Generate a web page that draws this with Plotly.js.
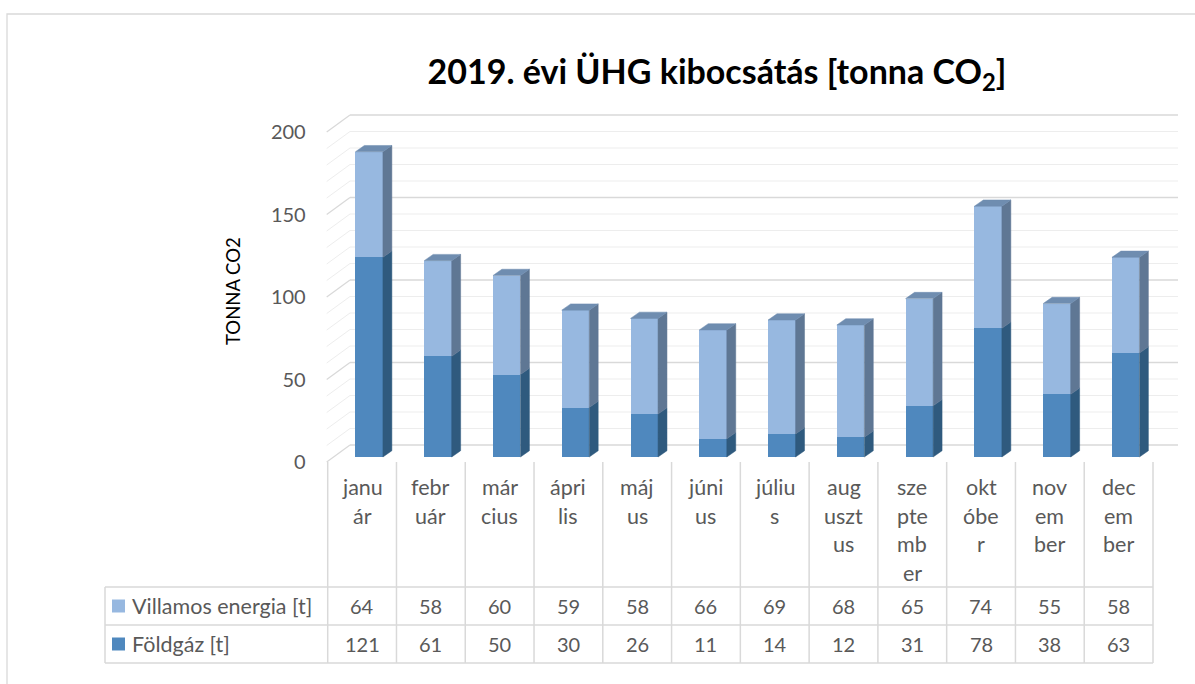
<!DOCTYPE html>
<html><head><meta charset="utf-8">
<script src="https://cdn.plot.ly/plotly-3.0.1.min.js"></script>
<style>html,body{margin:0;padding:0;background:#fff}</style>
</head><body><div id="chart" style="width:1195px;height:684px"></div>
<script>
// ---- data ----
const months = ['január','február','március','április','május','június','július','augusztus','szeptember','október','november','december'];
const monthLabelLines = [['janu','ár'],['febr','uár'],['már','cius'],['ápri','lis'],['máj','us'],['júni','us'],['júliu','s'],['aug','uszt','us'],['sze','pte','mb','er'],['okt','óbe','r'],['nov','em','ber'],['dec','em','ber']];
const villamos = [64,58,60,59,58,66,69,68,65,74,55,58];
const foldgaz = [121,61,50,30,26,11,14,12,31,78,38,63];
const seriesNames = ['Villamos energia [t]','Földgáz [t]'];
const yTicks = [0,50,100,150,200];
const titleText = '<b>2019. évi ÜHG kibocsátás [tonna CO<sub>2</sub>]</b>';
const yTitleText = 'TONNA CO2';

// ---- geometry / style ----
const W = 1195, H = 684;
const fx = px => px / W, fy = py => 1 - py / H;
const COL0 = 327.7, COL1 = 1153, NCOL = months.length, COLW = (COL1 - COL0) / NCOL;
const PX_PER = 1.65, Y0PX = 457, DOM_BOT = 475, DOM_TOP = 108;
const yRange = [(Y0PX - DOM_BOT) / PX_PER, (Y0PX - DOM_TOP) / PX_PER];
const FRONT_SHIFT = 5 / PX_PER, BACK_SHIFT = 12 / PX_PER;
const BAR_W = 0.40, BAR_OFF = -0.097, DX = 0.13, DY = 3.8;
const FONT = 'Lato, "Open Sans", sans-serif';
const TXT = '#595959';
const cVF = '#97B8E0', cGF = '#4F88BE', cVS = '#5F7794', cGS = '#2F5A7E', cTop = '#6F8DB0';
const GRID_MAJ = '#D9D9D9', GRID_MIN = '#EDEDED';
const TXT_SIZE = 21.5, NUM_SIZE = 20;

const xs = months.map((_, i) => i);
const totals = xs.map(i => foldgaz[i] + villamos[i]);

function sidePoly(lo, hi) {
  const X = [], Y = [];
  xs.forEach(i => {
    const xr = i + BAR_OFF + BAR_W;
    X.push(xr, xr + DX, xr + DX, xr, xr, null);
    Y.push(lo[i], lo[i] + DY, hi[i] + DY, hi[i], lo[i], null);
  });
  return {X, Y};
}
const zeros = xs.map(() => 0);
const gSide = sidePoly(zeros, foldgaz);
const vSide = sidePoly(foldgaz, totals);
const topX = [], topY = [];
xs.forEach(i => {
  const xl = i + BAR_OFF, xr = xl + BAR_W, T = totals[i];
  topX.push(xl, xl + DX, xr + DX, xr, xl, null);
  topY.push(T, T + DY, T + DY, T, T, null);
});

const faceTrace = (X, Y, c) => ({type:'scatter', mode:'lines', x:X, y:Y, fill:'toself', fillcolor:c,
  line:{color:c, width:0.5}, hoverinfo:'skip', showlegend:false, xaxis:'x', yaxis:'y'});

const traces = [
  {type:'bar', name:seriesNames[1], x:xs, y:foldgaz, width:BAR_W, offset:BAR_OFF, marker:{color:cGF, line:{width:0}}, showlegend:false, hoverinfo:'skip'},
  {type:'bar', name:seriesNames[0], x:xs, y:villamos, width:BAR_W, offset:BAR_OFF, marker:{color:cVF, line:{width:0}}, showlegend:false, hoverinfo:'skip'},
  faceTrace(gSide.X, gSide.Y, cGS),
  faceTrace(vSide.X, vSide.Y, cVS),
  faceTrace(topX, topY, cTop),
  {type:'scatter', mode:'markers', x:[null], y:[null], xaxis:'x', yaxis:'y2', showlegend:false, hoverinfo:'skip'}
];

// ---- shapes ----
const shapes = [];
// outer chart border
shapes.push({type:'rect', xref:'paper', yref:'paper', x0:fx(7), y0:-0.05, x1:1.05, y1:fy(14), line:{color:GRID_MAJ, width:1.3}, layer:'below'});
// gridlines (side wall diagonal + back wall)
for (let v = 0; v <= 200; v += 10) {
  const major = v % 50 === 0;
  const ln = {color: major ? GRID_MAJ : GRID_MIN, width: major ? 1.3 : 1};
  shapes.push({type:'line', xref:'paper', yref:'y', x0:fx(326.7), y0:v - FRONT_SHIFT, x1:fx(350), y1:v + BACK_SHIFT, line:ln, layer:'below'});
  shapes.push({type:'line', xref:'paper', yref:'y', x0:fx(350), y0:v + BACK_SHIFT, x1:fx(1178), y1:v + BACK_SHIFT, line:ln, layer:'below'});
}
// table
const tl = {color:GRID_MAJ, width:1.5};
const ROW_Y = [587, 625, 663];
ROW_Y.forEach(py => shapes.push({type:'line', xref:'paper', yref:'paper', x0:fx(105), x1:fx(COL1), y0:fy(py), y1:fy(py), line:tl}));
shapes.push({type:'line', xref:'paper', yref:'paper', x0:fx(105), x1:fx(105), y0:fy(587), y1:fy(663), line:tl});
for (let k = 0; k <= NCOL; k++) {
  const px = COL0 + COLW * k;
  shapes.push({type:'line', xref:'paper', yref:'paper', x0:fx(px), x1:fx(px), y0:fy(462), y1:fy(663), line:tl});
}
// legend keys
[[cVF, 606], [cGF, 644]].forEach(([c, py]) => shapes.push({type:'rect', xref:'paper', yref:'paper', x0:fx(112), x1:fx(125), y0:fy(py + 6.5), y1:fy(py - 6.5), fillcolor:c, line:{width:0}}));

// ---- annotations ----
const ann = [];
monthLabelLines.forEach((lines, i) => lines.forEach((t, k) => ann.push({xref:'x', yref:'paper', x:i, y:fy(487 + 28.5 * k), text:t, showarrow:false, xanchor:'center', yanchor:'middle', font:{family:FONT, size:TXT_SIZE, color:TXT}})));
[[villamos, 606], [foldgaz, 644]].forEach(([arr, py]) => arr.forEach((v, i) => ann.push({xref:'x', yref:'paper', x:i, y:fy(py), text:String(v), showarrow:false, xanchor:'center', yanchor:'middle', font:{family:FONT, size:NUM_SIZE, color:TXT}})));
[[seriesNames[0], 606], [seriesNames[1], 644]].forEach(([t, py]) => ann.push({xref:'paper', yref:'paper', x:fx(130), y:fy(py), text:t, showarrow:false, xanchor:'left', yanchor:'middle', font:{family:FONT, size:TXT_SIZE, color:TXT}}));
ann.push({xref:'paper', yref:'paper', x:fx(233), y:fy(291), text:yTitleText, textangle:-90, showarrow:false, xanchor:'center', yanchor:'middle', font:{family:FONT, size:18.5, color:'#000'}});

const layout = {
  width:W, height:H, margin:{l:0, r:0, t:0, b:0},
  paper_bgcolor:'#fff', plot_bgcolor:'rgba(0,0,0,0)',
  barmode:'stack', showlegend:false, hovermode:false,
  title:{text:titleText, x:fx(717), y:fy(72), xanchor:'center', yanchor:'middle', font:{family:FONT, size:34, color:'#000'}},
  xaxis:{domain:[fx(COL0), fx(COL1)], range:[-0.5, NCOL - 0.5], visible:false, fixedrange:true},
  yaxis:{domain:[fy(DOM_BOT), fy(DOM_TOP)], range:yRange, visible:false, fixedrange:true},
  yaxis2:{overlaying:'y', anchor:'x', side:'left', range:[yRange[0] + FRONT_SHIFT, yRange[1] + FRONT_SHIFT],
    tickvals:yTicks, ticktext:yTicks.map(String), showgrid:false, zeroline:false, showline:false, ticks:'',
    ticklabelstandoff:21, tickfont:{family:FONT, size:NUM_SIZE, color:TXT}, fixedrange:true},
  shapes:shapes, annotations:ann
};
Plotly.newPlot('chart', traces, layout, {staticPlot:true, displayModeBar:false});
</script></body></html>
